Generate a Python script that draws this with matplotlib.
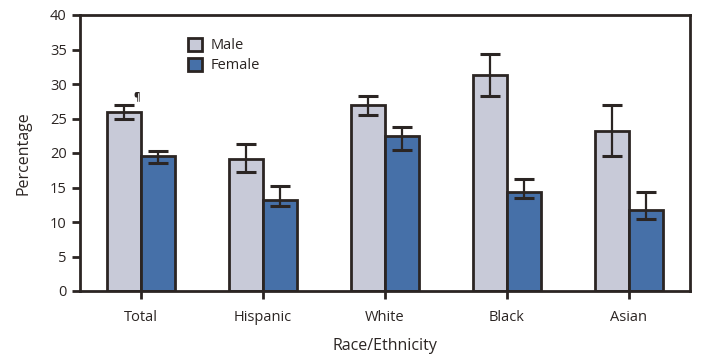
import matplotlib
matplotlib.use('Agg')
import matplotlib.pyplot as plt
from matplotlib.patches import Patch
import numpy as np

plt.rcParams['font.family'] = ['Open Sans', 'DejaVu Sans']

# --- data ---
groups = ['Total', 'Hispanic', 'White', 'Black', 'Asian']
male = [26.0, 19.1, 26.9, 31.3, 23.2]
male_lo = [25.0, 17.2, 25.5, 28.2, 19.6]
male_hi = [27.0, 21.3, 28.3, 34.4, 26.9]
female = [19.5, 13.2, 22.5, 14.3, 11.7]
female_lo = [18.5, 12.3, 20.5, 13.5, 10.5]
female_hi = [20.3, 15.2, 23.7, 16.3, 14.4]

INK = '#2b2523'
MALE_C = '#c8cad8'
FEMALE_C = '#4670a8'
BAR_W = 0.28

fig = plt.figure(figsize=(7.17, 3.6), dpi=100)
ax = fig.add_axes([80 / 717, 1 - 291 / 360, 610 / 717, 276 / 360])

x = np.arange(len(groups))
m = np.array(male)
f = np.array(female)
m_err = [m - np.array(male_lo), np.array(male_hi) - m]
f_err = [f - np.array(female_lo), np.array(female_hi) - f]

err_kw = dict(ecolor=INK, elinewidth=1.6, capsize=7, capthick=2.2)
ax.bar(x - BAR_W / 2, m, BAR_W, color=MALE_C, edgecolor=INK, linewidth=2,
       yerr=m_err, error_kw=err_kw, zorder=2)
ax.bar(x + BAR_W / 2, f, BAR_W, color=FEMALE_C, edgecolor=INK, linewidth=2,
       yerr=f_err, error_kw=err_kw, zorder=2)

# footnote mark on Total male
ax.annotate('¶', (x[0] - BAR_W / 2, male_hi[0]), xytext=(9, 2),
            textcoords='offset points', fontsize=7, color=INK,
            ha='center', va='bottom', fontweight='bold')

ax.set_xlim(-0.5, len(groups) - 0.5)
ax.set_ylim(0, 40)
ax.set_yticks(range(0, 41, 5))
ax.set_xticks(x)
ax.set_xticklabels(groups)
ax.tick_params(axis='both', direction='out', length=6, width=2, color=INK,
               labelsize=10.5, labelcolor=INK)
ax.tick_params(axis='x', pad=8)
for s in ax.spines.values():
    s.set_linewidth(2)
    s.set_color(INK)

ax.set_ylabel('Percentage', fontsize=11.5, color=INK, labelpad=13)
ax.set_xlabel('Race/Ethnicity', fontsize=11.5, color=INK, labelpad=9)

handles = [Patch(facecolor=MALE_C, edgecolor=INK, linewidth=2, label='Male'),
           Patch(facecolor=FEMALE_C, edgecolor=INK, linewidth=2, label='Female')]
ax.legend(handles=handles, loc='upper left', bbox_to_anchor=(0.155, 0.965),
          frameon=False, fontsize=10.5, handlelength=1.0, handleheight=1.0,
          handletextpad=0.6, labelspacing=0.3, labelcolor=INK)

fig.savefig('out.png', dpi=100)
